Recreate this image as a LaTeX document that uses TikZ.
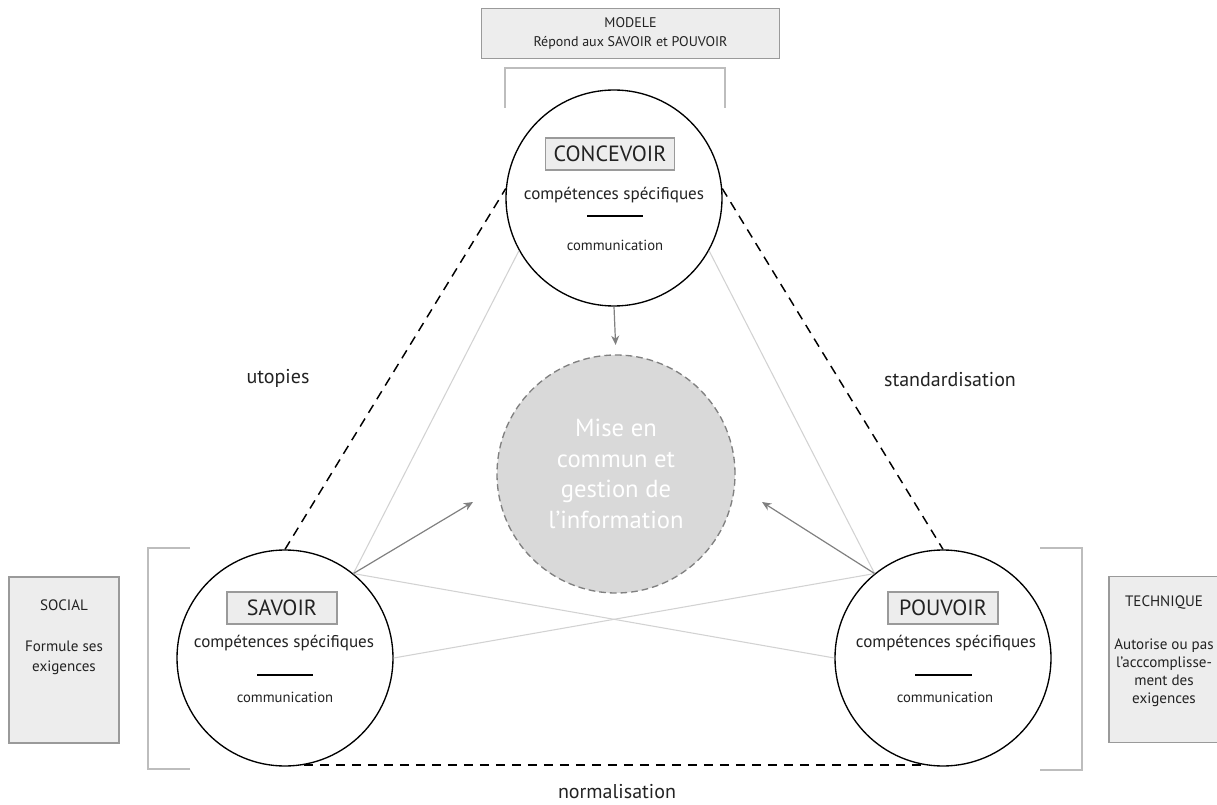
\documentclass[tikz,border=0pt]{standalone}
\usepackage{fontspec}
\setmainfont{PT Sans}
\usepackage{tikz}
\usetikzlibrary{arrows.meta}

\definecolor{boxfill}{HTML}{EDEDED}
\definecolor{boxline}{HTML}{9A9A9A}
\definecolor{hubgray}{HTML}{D9D9D9}
\definecolor{arrowgray}{HTML}{808080}
\definecolor{linkgray}{HTML}{D2D2D2}
\definecolor{bracketgray}{HTML}{BDBDBD}
\definecolor{inkgray}{HTML}{222222}

\begin{document}
\begin{tikzpicture}[
		x=0.75pt, y=-0.75pt,
		ring/.style={circle, draw, line width=1pt, minimum size=162pt, inner sep=0pt},
		hub/.style={circle, fill=hubgray, draw=arrowgray, dash pattern=on 5pt off 3pt, line width=1pt,
			minimum size=178.5pt, inner sep=0pt, text=white, align=center, font=\fontsize{18.5}{23}\selectfont},
		namebox/.style={rectangle, draw=boxline, fill=boxfill, line width=0.9pt, minimum width=82.5pt,
			minimum height=23pt, inner sep=6pt, text=inkgray, font=\fontsize{16.5}{18}\selectfont},
		comp/.style={text=inkgray, font=\fontsize{12.8}{15}\selectfont},
		comm/.style={text=inkgray, font=\fontsize{11}{13}\selectfont},
		tag/.style={text=inkgray, font=\fontsize{15}{17}\selectfont},
		sidebox/.style={rectangle, draw=boxline, fill=boxfill, line width=0.9pt, minimum width=82.5pt, minimum height=124.5pt},
		side/.style={align=center, text=inkgray, font=\fontsize{11.3}{13.5}\selectfont},
		link/.style={draw=linkgray, line width=0.8pt},
		flow/.style={draw=arrowgray, line width=0.9pt, -{Stealth[length=7pt, width=6pt]}},
		relation/.style={dash pattern=on 7pt off 5pt, line width=1.1pt},
		bracket/.style={draw=bracketgray, line width=0.8pt},
		sepline/.style={line width=1.2pt}
	]
  \useasboundingbox (0, 0) rectangle (1217, 805);

  % top: model
  \node (modele) [rectangle, draw=boxline, fill=boxfill, line width=0.9pt, minimum width=223.5pt, minimum height=38pt,
    align=center, text=inkgray, font=\fontsize{10.5}{14}\selectfont] at (630.5, 33.5) {MODELE\\Répond aux SAVOIR et POUVOIR};
  \draw [bracket] (505, 108) -- (505, 68) -- (725, 68) -- (725, 108);

  % the three poles
  \node (con) [ring] at (614, 198) {};
  \node (con_name) [namebox] at (610, 154) {CONCEVOIR};
  \node (con_comp) [comp] at (614, 195) {compétences spécifiques};
  \coordinate (con_sep_l) at (587, 216);
  \coordinate (con_sep_r) at (643, 216);
  \node (con_comm) [comm] at (615, 245) {communication};

  \node (sav) [ring] at (285, 658) {};
  \node (sav_name) [namebox] at (282, 608) {SAVOIR};
  \node (sav_comp) [comp] at (284, 643) {compétences spécifiques};
  \coordinate (sav_sep_l) at (257, 675);
  \coordinate (sav_sep_r) at (313, 675);
  \node (sav_comm) [comm] at (285, 697) {communication};

  \node (pou) [ring] at (943, 658) {};
  \node (pou_name) [namebox] at (943, 608) {POUVOIR};
  \node (pou_comp) [comp] at (946, 643) {compétences spécifiques};
  \coordinate (pou_sep_l) at (915, 675);
  \coordinate (pou_sep_r) at (972, 675);
  \node (pou_comm) [comm] at (945, 697) {communication};

  \draw [sepline] (con_sep_l) -- (con_sep_r);
  \draw [sepline] (sav_sep_l) -- (sav_sep_r);
  \draw [sepline] (pou_sep_l) -- (pou_sep_r);

  % shared information
  \node (info) [hub] at (616, 474) {Mise en\\commun et\\gestion de\\l’information};

  % side boxes
  \draw [bracket] (190, 548) -- (148, 548) -- (148, 769) -- (190, 769);
  \draw [bracket] (1040, 548) -- (1082, 548) -- (1082, 770) -- (1040, 770);
  \node (social) [sidebox] at (64, 660) {};
  \node (social_title) [side] at (64, 605) {SOCIAL};
  \node (social_text) [side, font=\fontsize{11.3}{15}\selectfont] at (64, 658) {Formule ses\\exigences};
  \node (technique) [sidebox] at (1164, 659.5) {};
  \node (technique_title) [side] at (1164, 603) {TECHNIQUE};
  \node (technique_text) [side, font=\fontsize{11.3}{13.5}\selectfont] at (1164, 673) {Autorise ou pas\\l’acccomplisse-\\ment des\\exigences};

  % relations
  \draw [relation] (sav.north) -- (con.175);
  \draw [relation] (con.5) -- (pou.north);
  \draw [relation] (sav.-80) -- (pou.-100);
  \node (utopies) [tag] at (278, 378) {utopies};
  \node (standard) [tag] at (950, 380) {standardisation};
  \node (normal) [tag] at (617, 792) {normalisation};

  % links between poles
  \draw [link] (con.209) -- (sav.51);
  \draw [link] (con.-29) -- (pou.129);
  \draw [link] (sav.51) -- (pou.west);
  \draw [link] (sav.east) -- (pou.129);

  % flows to the hub
  \coordinate (sav_tip) at (473, 502);
  \coordinate (pou_tip) at (762, 502);
  \draw [flow, shorten >=7pt] (con.south) -- (info.north);
  \draw [flow] (sav.51) -- (sav_tip);
  \draw [flow] (pou.129) -- (pou_tip);
\end{tikzpicture}
\end{document}
